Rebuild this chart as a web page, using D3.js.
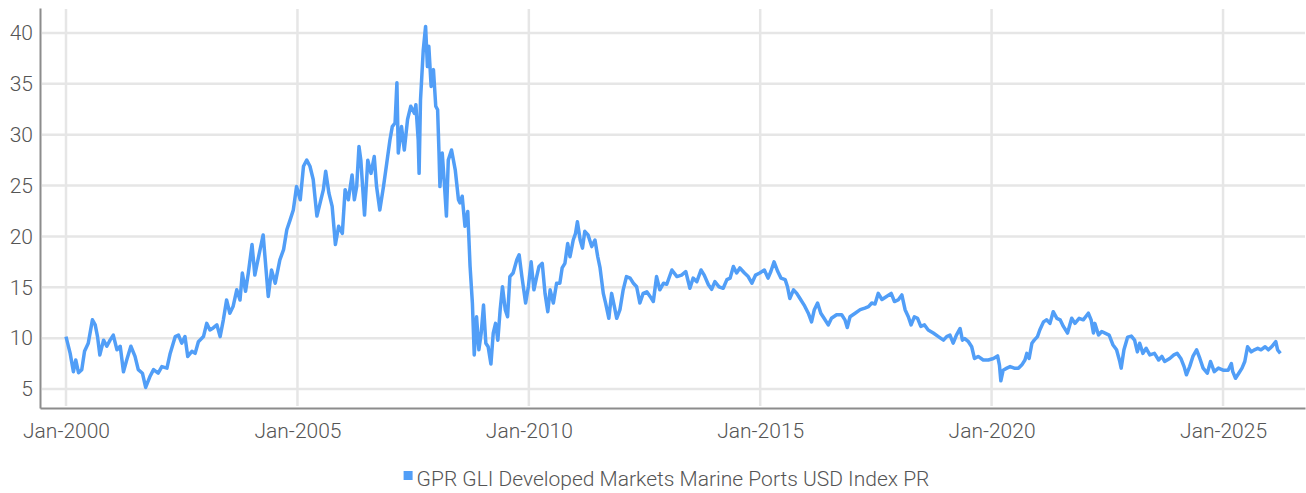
<!DOCTYPE html>
<html>
<head>
<meta charset="utf-8">
<script src="https://cdn.jsdelivr.net/npm/d3@7"></script>
<style>
  body { margin: 0; background: #fff; }
  text { font-family: Roboto, "Noto Sans", sans-serif; font-weight: 300; fill: #555; }
</style>
</head>
<body>
<div id="chart"></div>
<script>
// Series name
var seriesName = "GPR GLI Developed Markets Marine Ports USD Index PR";

// Dates as decimal years
var years = [
  2000.00, 2000.09, 2000.16, 2000.21, 2000.27, 2000.34, 2000.40, 2000.48, 2000.57, 2000.63,
  2000.68, 2000.73, 2000.81, 2000.88, 2000.95, 2001.02, 2001.10, 2001.17, 2001.24, 2001.31,
  2001.40, 2001.49, 2001.56, 2001.65, 2001.72, 2001.81, 2001.89, 2001.99, 2002.07, 2002.18,
  2002.25, 2002.36, 2002.43, 2002.50, 2002.57, 2002.63, 2002.72, 2002.79, 2002.86, 2002.97,
  2003.04, 2003.11, 2003.18, 2003.26, 2003.33, 2003.40, 2003.47, 2003.54, 2003.61, 2003.69,
  2003.76, 2003.81, 2003.88, 2003.94, 2004.02, 2004.08, 2004.17, 2004.26, 2004.37, 2004.44,
  2004.52, 2004.62, 2004.70, 2004.77, 2004.84, 2004.91, 2004.98, 2005.06, 2005.13, 2005.20,
  2005.27, 2005.34, 2005.42, 2005.49, 2005.56, 2005.61, 2005.68, 2005.75, 2005.82, 2005.89,
  2005.97, 2006.03, 2006.10, 2006.18, 2006.23, 2006.28, 2006.33, 2006.37, 2006.45, 2006.52,
  2006.59, 2006.66, 2006.71, 2006.78, 2006.86, 2006.93, 2007.00, 2007.05, 2007.11, 2007.15,
  2007.18, 2007.25, 2007.31, 2007.38, 2007.45, 2007.53, 2007.56, 2007.61, 2007.63, 2007.66,
  2007.72, 2007.77, 2007.81, 2007.84, 2007.89, 2007.94, 2007.99, 2008.03, 2008.06, 2008.08,
  2008.13, 2008.17, 2008.22, 2008.26, 2008.33, 2008.41, 2008.48, 2008.51, 2008.56, 2008.62,
  2008.68, 2008.73, 2008.78, 2008.82, 2008.87, 2008.92, 2008.97, 2009.02, 2009.07, 2009.12,
  2009.18, 2009.23, 2009.28, 2009.33, 2009.38, 2009.43, 2009.49, 2009.54, 2009.59, 2009.66,
  2009.74, 2009.79, 2009.85, 2009.93, 2009.99, 2010.05, 2010.11, 2010.17, 2010.22, 2010.29,
  2010.35, 2010.41, 2010.46, 2010.53, 2010.60, 2010.67, 2010.72, 2010.78, 2010.84, 2010.89,
  2010.96, 2011.01, 2011.05, 2011.11, 2011.16, 2011.21, 2011.28, 2011.36, 2011.43, 2011.49,
  2011.54, 2011.61, 2011.66, 2011.73, 2011.79, 2011.85, 2011.90, 2011.97, 2012.04, 2012.11,
  2012.19, 2012.26, 2012.33, 2012.40, 2012.47, 2012.55, 2012.62, 2012.69, 2012.76, 2012.83,
  2012.91, 2012.98, 2013.09, 2013.20, 2013.30, 2013.39, 2013.48, 2013.55, 2013.63, 2013.72,
  2013.79, 2013.88, 2013.95, 2014.02, 2014.11, 2014.20, 2014.28, 2014.35, 2014.42, 2014.49,
  2014.56, 2014.66, 2014.74, 2014.82, 2014.90, 2014.99, 2015.09, 2015.17, 2015.23, 2015.30,
  2015.38, 2015.45, 2015.54, 2015.59, 2015.64, 2015.72, 2015.79, 2015.86, 2015.95, 2016.04,
  2016.11, 2016.17, 2016.24, 2016.31, 2016.38, 2016.47, 2016.54, 2016.65, 2016.76, 2016.83,
  2016.88, 2016.94, 2017.05, 2017.16, 2017.26, 2017.34, 2017.41, 2017.48, 2017.55, 2017.63,
  2017.73, 2017.83, 2017.90, 2017.98, 2018.06, 2018.13, 2018.20, 2018.26, 2018.33, 2018.40,
  2018.47, 2018.55, 2018.63, 2018.74, 2018.85, 2018.96, 2019.03, 2019.10, 2019.17, 2019.24,
  2019.32, 2019.37, 2019.42, 2019.50, 2019.57, 2019.63, 2019.71, 2019.82, 2019.93, 2020.04,
  2020.13, 2020.17, 2020.20, 2020.25, 2020.33, 2020.40, 2020.49, 2020.58, 2020.65, 2020.72,
  2020.76, 2020.81, 2020.87, 2020.92, 2020.99, 2021.04, 2021.12, 2021.19, 2021.26, 2021.33,
  2021.41, 2021.48, 2021.55, 2021.64, 2021.73, 2021.80, 2021.89, 2021.98, 2022.09, 2022.15,
  2022.20, 2022.23, 2022.31, 2022.38, 2022.45, 2022.54, 2022.62, 2022.70, 2022.77, 2022.80,
  2022.86, 2022.94, 2023.02, 2023.09, 2023.15, 2023.20, 2023.27, 2023.34, 2023.42, 2023.52,
  2023.61, 2023.68, 2023.74, 2023.85, 2023.94, 2024.01, 2024.09, 2024.16, 2024.21, 2024.28,
  2024.35, 2024.43, 2024.50, 2024.57, 2024.66, 2024.73, 2024.81, 2024.90, 2025.00, 2025.11,
  2025.18, 2025.21, 2025.27, 2025.34, 2025.41, 2025.47, 2025.53, 2025.61, 2025.68, 2025.75,
  2025.82, 2025.91, 2025.98, 2026.05, 2026.14, 2026.18, 2026.24
];

// Index values (same order as years)
var values = [
  10.15, 8.5, 6.7, 7.85, 6.6, 6.9, 8.7, 9.5, 11.8, 11.3,
  10.15, 8.35, 9.8, 9.2, 9.8, 10.3, 8.85, 9.2, 6.7, 7.85,
  9.2, 8.2, 6.9, 6.55, 5.15, 6.2, 6.9, 6.55, 7.2, 7.05,
  8.5, 10.15, 10.3, 9.5, 10.15, 8.2, 8.7, 8.5, 9.65, 10.15,
  11.45, 10.8, 11.0, 11.3, 10.15, 11.8, 13.75, 12.45, 13.1, 14.75,
  13.75, 16.4, 14.6, 16.4, 19.2, 16.2, 18.2, 20.15, 14.1, 16.7,
  15.4, 17.7, 18.7, 20.65, 21.6, 22.6, 24.9, 23.6, 26.9, 27.5,
  26.9, 25.6, 22.0, 23.3, 24.6, 26.4, 24.25, 22.95, 19.2, 21.0,
  20.3, 24.6, 23.6, 26.05, 23.6, 24.9, 28.85, 27.5, 22.1, 27.5,
  26.2, 27.85, 24.9, 22.6, 24.9, 27.2, 29.5, 30.8, 31.15, 35.1,
  28.2, 30.8, 28.5, 31.5, 32.8, 32.1, 32.95, 29.5, 26.2, 33.4,
  38.35, 40.65, 36.7, 38.7, 34.75, 36.4, 32.8, 32.45, 28.2, 24.9,
  28.2, 25.6, 22.0, 27.5, 28.5, 26.55, 23.6, 23.3, 23.95, 21.0,
  22.45, 17.05, 13.45, 8.35, 12.1, 8.85, 10.5, 13.25, 9.5, 9.15,
  7.45, 10.5, 11.45, 9.8, 12.8, 15.05, 12.8, 12.1, 16.05, 16.4,
  17.7, 18.2, 16.05, 13.45, 15.05, 17.5, 14.75, 16.05, 17.05, 17.35,
  14.4, 12.6, 14.75, 13.45, 15.4, 15.4, 16.9, 17.35, 19.3, 18.0,
  19.65, 20.3, 21.45, 19.65, 18.85, 20.5, 20.15, 19.0, 19.65, 18.0,
  16.9, 14.4, 13.45, 11.95, 14.4, 13.1, 11.95, 12.8, 14.75, 16.05,
  15.9, 15.4, 15.05, 13.45, 14.4, 14.55, 14.1, 13.6, 16.05, 14.75,
  15.4, 15.3, 16.7, 16.05, 16.2, 16.55, 14.9, 15.9, 15.55, 16.7,
  16.2, 15.25, 14.8, 15.55, 15.05, 14.9, 15.75, 15.9, 17.05, 16.4,
  16.9, 16.4, 16.05, 15.4, 16.2, 16.4, 16.7, 15.9, 16.55, 17.5,
  16.55, 15.9, 15.75, 15.05, 13.9, 14.75, 14.4, 13.9, 13.25, 12.45,
  11.6, 12.8, 13.45, 12.45, 11.95, 11.3, 11.95, 12.3, 12.3, 11.8,
  11.05, 12.1, 12.45, 12.8, 12.95, 13.1, 13.45, 13.35, 14.4, 13.8,
  14.1, 14.4, 13.6, 13.75, 14.25, 12.8, 12.1, 11.3, 12.1, 11.95,
  11.15, 11.3, 10.8, 10.5, 10.15, 9.8, 10.15, 10.3, 9.5, 10.3,
  10.95, 9.8, 9.95, 9.65, 9.15, 8.0, 8.2, 7.85, 7.85, 8.0,
  8.25, 7.35, 5.8, 6.85, 7.05, 7.2, 7.05, 7.05, 7.35, 7.85,
  8.5, 8.0, 9.5, 9.8, 10.15, 10.8, 11.6, 11.8, 11.45, 12.6,
  11.95, 11.8, 11.15, 10.5, 11.95, 11.45, 11.95, 11.8, 12.45, 11.8,
  10.5, 11.45, 10.3, 10.65, 10.5, 10.3, 9.35, 8.85, 7.7, 7.05,
  8.85, 10.1, 10.2, 9.8, 8.65, 9.5, 8.5, 9.0, 8.35, 8.5,
  7.85, 8.2, 7.7, 8.0, 8.35, 8.5, 8.0, 7.2, 6.4, 7.2,
  8.2, 8.85, 8.0, 7.05, 6.55, 7.7, 6.7, 7.05, 6.85, 6.85,
  7.5, 6.7, 6.05, 6.55, 7.05, 7.7, 9.15, 8.65, 8.85, 9.0,
  8.85, 9.15, 8.85, 9.15, 9.65, 8.85, 8.5
];

// Axis ticks
var yTicks = [5, 10, 15, 20, 25, 30, 35, 40];
var xTickYears = [2000, 2005, 2010, 2015, 2020, 2025];

var W = 1306, H = 493;
var plotL = 40, plotR = 1305, plotT = 8, plotB = 408;

// decimal year -> Date
function toDate(yv) {
  var yr = Math.floor(yv);
  var a = new Date(yr, 0, 1), b = new Date(yr + 1, 0, 1);
  return new Date(+a + (yv - yr) * (b - a));
}

var data = years.map(function (yv, i) { return { date: toDate(yv), value: values[i] }; });

var svg = d3.select("#chart").append("svg")
  .attr("width", W)
  .attr("height", H);

var x = d3.scaleTime()
  .domain([toDate(1999.438), toDate(2026.772)])
  .range([plotL, plotR]);

var y = d3.scaleLinear()
  .domain([3.13, 42.46])
  .range([plotB, plotT]);

// Horizontal grid
svg.append("g")
  .selectAll("line")
  .data(yTicks)
  .enter().append("line")
    .attr("x1", plotL + 2)
    .attr("x2", plotR)
    .attr("y1", d => y(d))
    .attr("y2", d => y(d))
    .style("stroke", "#e6e6e6")
    .style("stroke-width", 2.5);

// Vertical grid
svg.append("g")
  .selectAll("line")
  .data(xTickYears)
  .enter().append("line")
    .attr("x1", d => x(toDate(d)))
    .attr("x2", d => x(toDate(d)))
    .attr("y1", plotT + 1)
    .attr("y2", plotB - 2)
    .style("stroke", "#e6e6e6")
    .style("stroke-width", 2.5);

// The line
var line = d3.line()
  .x(d => x(d.date))
  .y(d => y(d.value));

svg.append("path")
  .datum(data)
  .attr("d", line)
  .style("fill", "none")
  .style("stroke", "#519ef7")
  .style("stroke-width", 3.5)
  .style("stroke-linejoin", "round");

// Y axis
var yAxis = svg.append("g")
  .attr("transform", "translate(" + plotL + ",0)")
  .call(d3.axisLeft(y).tickValues(yTicks).tickSize(0).tickPadding(7));
yAxis.select(".domain").style("stroke", "#8c8c8c").style("stroke-width", 2);
yAxis.selectAll("text").style("font-size", "21px").style("fill", "#555")
  .style("font-family", "Roboto, sans-serif").style("font-weight", 300);

// X axis
var xAxis = svg.append("g")
  .attr("transform", "translate(0," + plotB + ")")
  .call(d3.axisBottom(x)
    .tickValues(xTickYears.map(toDate))
    .tickFormat(d3.timeFormat("%b-%Y"))
    .tickSize(0)
    .tickPadding(15));
xAxis.select(".domain").style("stroke", "#8c8c8c").style("stroke-width", 2);
xAxis.selectAll("text").style("font-size", "21px").style("fill", "#555")
  .style("font-family", "Roboto, sans-serif").style("font-weight", 300);

// Legend
var legend = svg.append("g");
var legendText = legend.append("text")
  .attr("x", 13)
  .attr("y", 0)
  .style("font-size", "21px")
  .text(seriesName);
var tw = legendText.node().getComputedTextLength();
legend.append("rect")
  .attr("x", 0)
  .attr("y", -15)
  .attr("width", 9)
  .attr("height", 9)
  .style("fill", "#519ef7");
legend.attr("transform", "translate(" + ((plotL + plotR) / 2 - (tw + 13) / 2 - 6) + ",486)");
</script>
</body>
</html>
